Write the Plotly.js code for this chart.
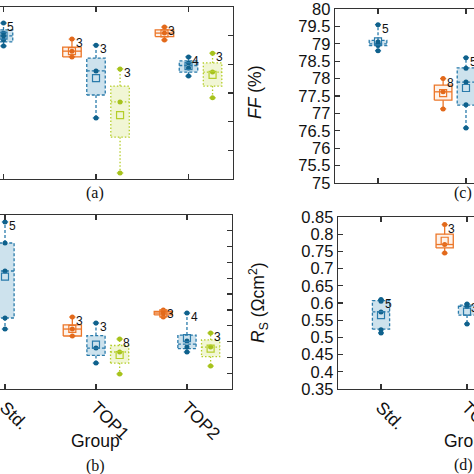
<!DOCTYPE html>
<html><head><meta charset="utf-8">
<script src="https://cdn.plot.ly/plotly-3.0.1.min.js"></script>
<style>html,body{margin:0;padding:0;background:#fff}#chart{width:474px;height:474px}</style>
</head><body><div id="chart"></div>
<script>
const groups = ['Std.', 'TOP1', 'TOP2'];
// series index: 0 = orange, 1 = blue, 2 = green

// Panel (a) (tick labels not visible in the crop; values in tick units)
const aGroup  = [0, 1, 1, 1, 2, 2, 2];
const aSeries = [1, 0, 1, 2, 0, 1, 2];
const aQ1     = [4.78, 4.26, 2.93, 1.46, 4.97, 3.73, 3.24];
const aMedian = [4.99, 4.46, 3.77, 2.69, 5.09, 3.96, 3.73];
const aQ3     = [5.20, 4.60, 4.22, 3.24, 5.20, 4.12, 4.05];
const aMean   = [5.00, 4.46, 3.52, 2.23, 5.08, 3.94, 3.63];
const aPoints = [[5.44, 5.09, 4.99, 4.85, 4.64], [4.88, 4.46, 4.26], [4.67, 3.77, 2.13], [3.84, 2.69, 0.21],
                 [5.30, 5.09, 4.85], [4.26, 4.05, 3.87, 3.59], [4.39, 3.73, 2.83]];
const aCount  = ['5', '3', '3', '3', '3', '4', '3'];
const aTicks  = [0, 1, 2, 3, 4, 5, 6];

// Panel (b)
const bGroup  = [0, 1, 1, 1, 2, 2, 2];
const bSeries = [1, 0, 1, 2, 0, 1, 2];
const bQ1     = [4.49, 3.35, 2.12, 1.64, 4.68, 2.55, 2.05];
const bMedian = [7.46, 3.79, 2.59, 2.34, 4.80, 2.84, 2.65];
const bQ3     = [9.23, 4.05, 3.38, 2.75, 4.90, 3.41, 3.10];
const bMean   = [7.11, 3.80, 2.80, 2.15, 4.78, 3.21, 2.55];
const bPoints = [[10.56, 9.23, 7.46, 4.49, 3.79], [4.55, 3.79, 3.35], [4.17, 2.59, 1.64], [3.16, 2.34, 0.95],
                 [4.99, 4.80, 4.55], [4.80, 3.03, 2.65, 2.34], [3.54, 2.65, 1.45]];
const bCount  = ['5', '3', '3', '8', '3', '4', '3'];
const bTicks  = [0, 1, 2, 3, 4, 5, 6, 7, 8, 9, 10, 11];

// Panel (c) FF (%)
const cGroup  = [0, 1, 1];
const cSeries = [1, 0, 1];
const cQ1     = [78.95, 77.38, 77.24];
const cMedian = [79.00, 77.62, 77.90];
const cQ3     = [79.10, 77.81, 78.31];
const cMean   = [79.07, 77.58, 77.73];
const cPoints = [[79.55, 79.05, 79.00, 78.95, 78.80], [78.00, 77.62, 77.13], [78.60, 78.30, 77.90, 77.25, 76.58]];
const cCount  = ['5', '8', '5'];
const cTicks  = [75, 75.5, 76, 76.5, 77, 77.5, 78, 78.5, 79, 79.5, 80];
const cTickText = ['75', '75.5', '76', '76.5', '77', '77.5', '78', '78.5', '79', '79.5', '80'];

// Panel (d) Rs (Ohm cm^2)
const dGroup  = [0, 1, 1];
const dSeries = [1, 0, 1];
const dQ1     = [0.524, 0.760, 0.565];
const dMedian = [0.574, 0.770, 0.590];
const dQ3     = [0.607, 0.800, 0.594];
const dMean   = [0.565, 0.781, 0.575];
const dPoints = [[0.610, 0.605, 0.574, 0.522, 0.513], [0.828, 0.770, 0.745], [0.597, 0.590, 0.539]];
const dCount  = ['5', '3', '3'];
const dTicks  = [0.35, 0.4, 0.45, 0.5, 0.55, 0.6, 0.65, 0.7, 0.75, 0.8, 0.85];
const dTickText = ['0.35', '0.4', '0.45', '0.5', '0.55', '0.6', '0.65', '0.7', '0.75', '0.8', '0.85'];

// styles
const lineCol  = ['#ec7628', '#2a7bab', '#b5ce2a'];
const dotCol   = ['#e2691b', '#0f618c', '#a6c21c'];
const fillCol  = ['rgba(253,240,230,0.85)', 'rgba(196,221,234,0.85)', 'rgba(238,244,206,0.85)'];
const dashes   = ['solid', '3px,2px', '1.5px,2px'];
const offsets  = [-0.26, 0, 0.26];
const halfW = 0.1, capW = 0.035;

const traces = [];
const annotations = [];

function panel(xa, ya, grp, ser, q1, med, q3, mean, pts, cnt) {
  for (let i = 0; i < grp.length; i++) {
    const s = ser[i];
    const cx = grp[i] + offsets[s];
    const hi = Math.max(...pts[i]), lo = Math.min(...pts[i]);
    const base = {type: 'scatter', xaxis: xa, yaxis: ya, hoverinfo: 'skip', showlegend: false, cliponaxis: true};
    traces.push(Object.assign({}, base, {
      mode: 'lines', x: [cx - halfW, cx + halfW, cx + halfW, cx - halfW, cx - halfW],
      y: [q1[i], q1[i], q3[i], q3[i], q1[i]], fill: 'toself', fillcolor: fillCol[s],
      line: {color: lineCol[s], width: 1.3, dash: dashes[s]}
    }));
    traces.push(Object.assign({}, base, {
      mode: 'lines', x: [cx - halfW, cx + halfW], y: [med[i], med[i]],
      line: {color: lineCol[s], width: 1.3, dash: dashes[s]}
    }));
    traces.push(Object.assign({}, base, {
      mode: 'lines', x: [cx, cx, null, cx, cx], y: [q3[i], hi, null, q1[i], lo], connectgaps: false,
      line: {color: lineCol[s], width: 1.3, dash: dashes[s]}
    }));
    traces.push(Object.assign({}, base, {
      mode: 'lines', x: [cx - capW, cx + capW, null, cx - capW, cx + capW], y: [hi, hi, null, lo, lo], connectgaps: false,
      line: {color: lineCol[s], width: 1.3}
    }));
    traces.push(Object.assign({}, base, {
      mode: 'markers', x: pts[i].map(() => cx), y: pts[i],
      marker: {size: 5, color: dotCol[s]}
    }));
    traces.push(Object.assign({}, base, {
      mode: 'markers', x: [cx], y: [mean[i]],
      marker: {size: 7, symbol: 'square-open', color: lineCol[s], line: {width: 1.2, color: lineCol[s]}}
    }));
    annotations.push({
      xref: xa, yref: ya, x: cx + 0.02, y: hi, text: cnt[i], showarrow: false,
      xanchor: 'left', yanchor: 'middle', yshift: -4,
      font: {size: 12, color: '#111', family: 'Liberation Sans, Arial, sans-serif'}
    });
  }
}

panel('x', 'y', aGroup, aSeries, aQ1, aMedian, aQ3, aMean, aPoints, aCount);
panel('x2', 'y2', bGroup, bSeries, bQ1, bMedian, bQ3, bMean, bPoints, bCount);
panel('x3', 'y3', cGroup, cSeries, cQ1, cMedian, cQ3, cMean, cPoints, cCount);
panel('x4', 'y4', dGroup, dSeries, dQ1, dMedian, dQ3, dMean, dPoints, dCount);

const W = 474, H = 474;
const px = v => v / W, py = v => 1 - v / H;
const font = 'Liberation Sans, Arial, sans-serif';
const serif = 'Liberation Serif, Times New Roman, serif';
const axCol = '#333';

function xax(anchor, domainL, domainR, range, labels) {
  return {
    anchor: anchor,
    domain: [px(domainL), px(domainR)], range: range, tickmode: 'array', tickvals: [0, 1, 2], ticktext: groups,
    showline: true, linecolor: axCol, linewidth: 1.3, mirror: 'ticks', ticks: 'inside', ticklen: 5,
    tickcolor: axCol, tickwidth: 1.2, showgrid: false, zeroline: false, automargin: false,
    showticklabels: labels, tickangle: 45, ticklabeloverflow: 'allow',
    tickfont: {size: 17.5, family: font, color: '#111'}
  };
}
function yax(anchor, top, bottom, range, tv, tt, side, labels) {
  return {
    anchor: anchor,
    domain: [py(bottom), py(top)], range: range, tickmode: 'array', tickvals: tv, ticktext: tt, side: side,
    showline: true, linecolor: axCol, linewidth: 1.3, mirror: false, ticks: 'inside', ticklen: 5,
    tickcolor: axCol, tickwidth: 1.2, showgrid: false, zeroline: false, automargin: false,
    showticklabels: labels, ticklabeloverflow: 'allow',
    tickfont: {size: 16.5, family: font, color: '#111'}
  };
}

function txt(x, y, text, size, family, extra) {
  return Object.assign({xref: 'paper', yref: 'paper', x: px(x), y: py(y), text: text, showarrow: false,
    xanchor: 'center', yanchor: 'middle', font: {size: size, family: family, color: '#111'}}, extra || {});
}

const layout = {
  width: W, height: H, margin: {l: 0, r: 0, t: 0, b: 0},
  paper_bgcolor: '#fff', plot_bgcolor: '#fff',
  xaxis:  xax('y', 0, 233, [-0.038, 2.481], false),
  yaxis:  yax('x', 7, 179, [0, 6], aTicks, aTicks.map(String), 'right', false),
  xaxis2: xax('y2', 0, 232, [-0.055, 2.495], true),
  yaxis2: yax('x2', 215, 389, [0, 11], bTicks, bTicks.map(String), 'right', false),
  xaxis3: xax('y3', 335, 474, [-0.489, 1.091], false),
  yaxis3: yax('x3', 9, 183, [75, 80], cTicks, cTickText, 'left', true),
  xaxis4: xax('y4', 338, 474, [-0.5, 1.081], true),
  yaxis4: yax('x4', 217, 389, [0.35, 0.85], dTicks, dTickText, 'left', true),
  annotations: annotations.concat([
    txt(95, 193, '(a)', 16, serif),
    txt(95, 466, '(b)', 16, serif),
    txt(463, 193, '(c)', 16, serif),
    txt(463, 465, '(d)', 16, serif),
    txt(95, 441, 'Group', 17.5, font),
    txt(468, 441, 'Group', 17.5, font),
    txt(255, 93, '<i>FF</i> (%)', 17.5, font, {textangle: -90}),
    txt(258, 303, '<i>R</i><sub>S</sub> (\u03A9cm<sup>2</sup>)', 17.5, font, {textangle: -90})
  ])
};

Plotly.newPlot('chart', traces, layout, {staticPlot: true, displayModeBar: false});
</script>
</body></html>
